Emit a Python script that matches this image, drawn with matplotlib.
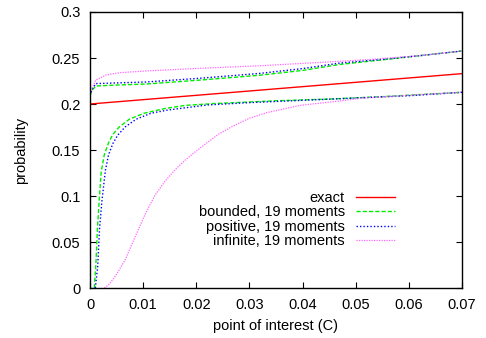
import matplotlib
matplotlib.use("Agg")
import matplotlib.pyplot as plt

plt.rcParams['font.family'] = ['Liberation Sans', 'DejaVu Sans']
plt.rcParams['font.size'] = 10.5

# exact curve
exact_x = [0.0, 0.07]
exact_y = [0.2, 0.233]

# bounded, 19 moments (upper and lower branch)
bounded_hi_x = [0.0, 0.0004, 0.0011, 0.0055, 0.0105, 0.0207, 0.032, 0.04, 0.047, 0.055, 0.062, 0.07]
bounded_hi_y = [0.209, 0.215, 0.2196, 0.2207, 0.2217, 0.226, 0.2313, 0.2365, 0.243, 0.248, 0.2525, 0.2576]
bounded_lo_x = [0.0008, 0.0011, 0.0014, 0.00175, 0.0021, 0.0027, 0.0035, 0.0043, 0.0055, 0.0074,
                0.0102, 0.014, 0.0179, 0.0235, 0.035, 0.0452, 0.055, 0.07]
bounded_lo_y = [0.0, 0.025, 0.065, 0.097, 0.126, 0.145, 0.158, 0.167, 0.175, 0.1835,
                0.19, 0.195, 0.1985, 0.2005, 0.2035, 0.2054, 0.208, 0.2127]

# positive, 19 moments
positive_hi_x = [0.0, 0.0004, 0.0011, 0.0055, 0.0105, 0.0207, 0.032, 0.04, 0.047, 0.055, 0.062, 0.07]
positive_hi_y = [0.209, 0.216, 0.2222, 0.223, 0.2239, 0.228, 0.2333, 0.2385, 0.2445, 0.2485, 0.2525, 0.2576]
positive_lo_x = [0.001, 0.00144, 0.0018, 0.00226, 0.0029, 0.0035, 0.0043, 0.0052, 0.0066, 0.0087,
                 0.0115, 0.0147, 0.0222, 0.03, 0.04, 0.05, 0.06, 0.07]
positive_lo_y = [0.0, 0.023, 0.065, 0.0957, 0.128, 0.145, 0.157, 0.166, 0.175, 0.1835,
                 0.19, 0.1935, 0.199, 0.2015, 0.204, 0.2065, 0.209, 0.2127]

# infinite, 19 moments
infinite_hi_x = [0.0, 0.0002, 0.0011, 0.003, 0.0055, 0.0105, 0.0207, 0.032, 0.0452, 0.053, 0.062, 0.07]
infinite_hi_y = [0.209, 0.215, 0.226, 0.2315, 0.234, 0.2359, 0.2388, 0.2416, 0.2458, 0.2485, 0.2525, 0.2576]
infinite_lo_x = [0.0027, 0.0036, 0.0047, 0.0066, 0.0085, 0.0104, 0.0122, 0.0141, 0.016, 0.0179,
                 0.0198, 0.0216, 0.024, 0.0269, 0.03, 0.0332, 0.0395, 0.047, 0.0514, 0.06, 0.07]
infinite_lo_y = [0.0, 0.004, 0.0123, 0.0304, 0.0558, 0.0805, 0.1005, 0.116, 0.1285, 0.139,
                 0.148, 0.156, 0.1665, 0.176, 0.1845, 0.1905, 0.1985, 0.2033, 0.2065, 0.2095, 0.2127]

fig = plt.figure(figsize=(4.86, 3.38), dpi=100)
ax = fig.add_axes([0.1852, 0.1479, 0.7654, 0.8166])

ax.plot(exact_x, exact_y, color='#ff0000', lw=1.0, label='exact')

green_ls = (0, (3, 1.5))
ax.plot(bounded_hi_x, bounded_hi_y, color='#00ee00', lw=1.0, ls=green_ls, label='bounded, 19 moments')
ax.plot(bounded_lo_x, bounded_lo_y, color='#00ee00', lw=1.0, ls=green_ls)

blue_ls = (0, (1, 1.5))
ax.plot(positive_hi_x, positive_hi_y, color='#0000ff', lw=1.0, ls=blue_ls, label='positive, 19 moments')
ax.plot(positive_lo_x, positive_lo_y, color='#0000ff', lw=1.0, ls=blue_ls)

pink_ls = (0, (1, 1))
ax.plot(infinite_hi_x, infinite_hi_y, color='#ff66ff', lw=0.9, ls=pink_ls, label='infinite, 19 moments')
ax.plot(infinite_lo_x, infinite_lo_y, color='#ff66ff', lw=0.9, ls=pink_ls)

ax.set_xlim(0, 0.07)
ax.set_ylim(0, 0.3)
ax.set_xticks([0, 0.01, 0.02, 0.03, 0.04, 0.05, 0.06, 0.07])
ax.set_xticklabels(['0', '0.01', '0.02', '0.03', '0.04', '0.05', '0.06', '0.07'])
ax.set_yticks([0, 0.05, 0.1, 0.15, 0.2, 0.25, 0.3])
ax.set_yticklabels(['0', '0.05', '0.1', '0.15', '0.2', '0.25', '0.3'])
ax.tick_params(direction='in', length=4, width=0.8, top=True, right=True, pad=7)
for s in ax.spines.values():
    s.set_linewidth(1.0)

ax.set_xlabel('point of interest (C)', labelpad=5)
ax.set_ylabel('probability', labelpad=17)

ax.legend(loc='lower right', bbox_to_anchor=(0.82, 0.145), frameon=False, markerfirst=False,
          handlelength=2.7, handletextpad=0.75, labelspacing=0.02, borderpad=0, borderaxespad=0,
          fontsize=10.5)

fig.savefig('out.png', dpi=100)
